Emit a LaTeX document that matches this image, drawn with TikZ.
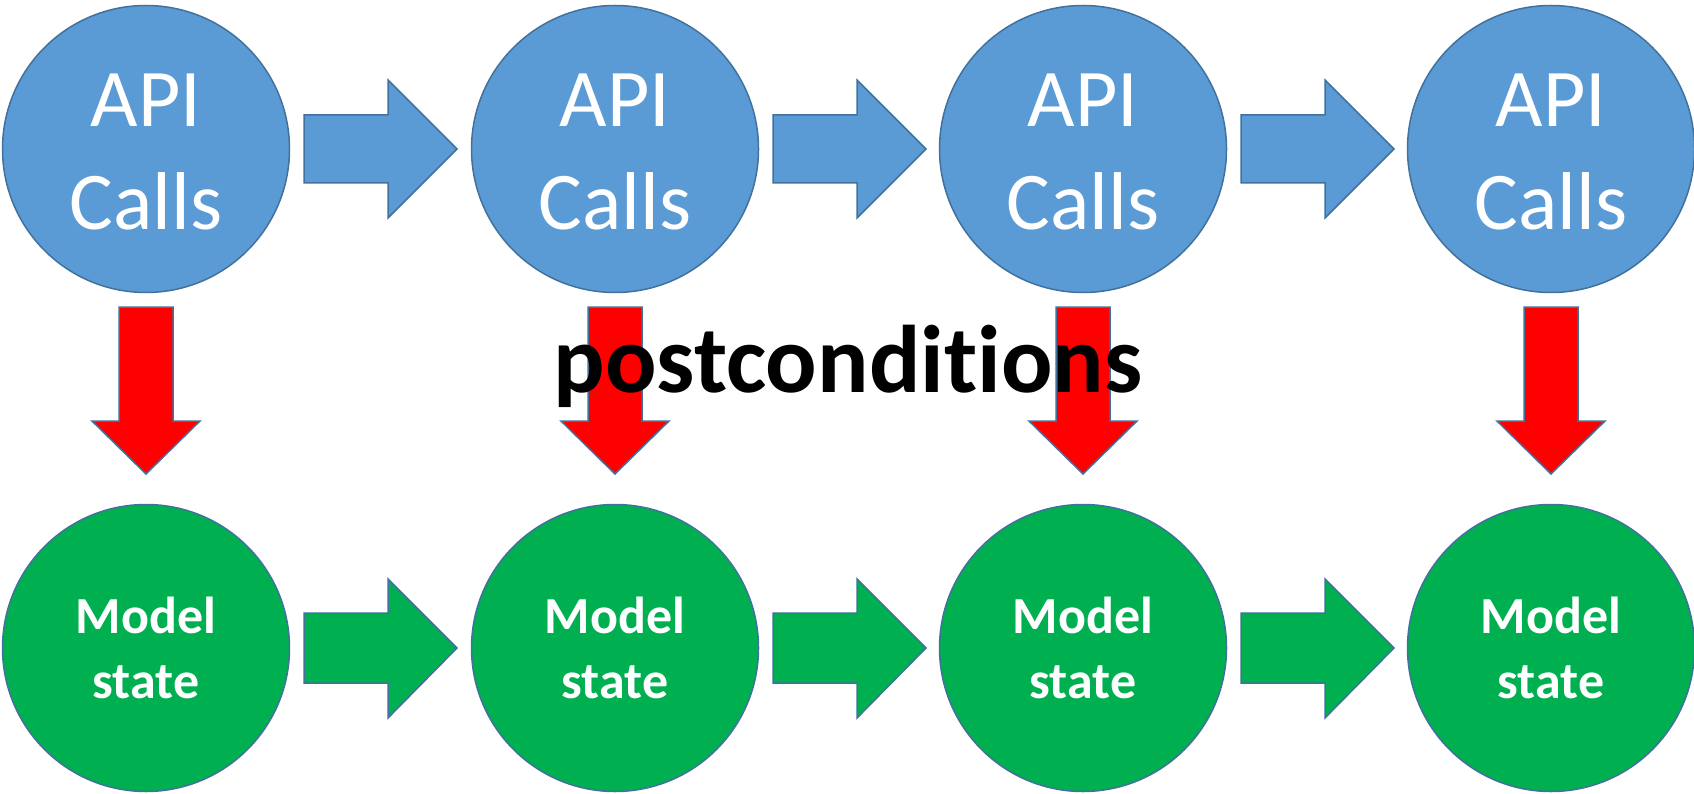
\documentclass[tikz,border=0pt]{standalone}
\usepackage{fontspec}
\setmainfont{Carlito}[Ligatures={NoCommon,NoRare}]
\definecolor{callblue}{HTML}{5B9BD5}
\definecolor{edgeblue}{HTML}{41719C}
\definecolor{stategreen}{HTML}{00B050}
\definecolor{postred}{HTML}{FF0000}
\begin{document}
\begin{tikzpicture}[x=1pt,y=-1pt,
  callnode/.style={circle, draw=edgeblue, fill=callblue, line width=1.5pt,
    minimum size=287pt, inner sep=0pt, text=white, align=center,
    font=\fontsize{82}{103}\selectfont},
  statenode/.style={circle, draw=edgeblue, fill=stategreen, line width=1.5pt,
    minimum size=287pt, inner sep=0pt, text=white, align=center,
    font=\bfseries\fontsize{52}{65}\selectfont},
  blockarrow/.style={draw=edgeblue, line width=1.5pt, line join=miter},
  flowblue/.style={blockarrow, fill=callblue},
  flowgreen/.style={blockarrow, fill=stategreen},
  downred/.style={blockarrow, fill=postred}]
\useasboundingbox (0,0) rectangle (1694,794);

% two rows of circles: API calls on top, model states below
\foreach \x [count=\i] in {146,615,1083,1551} {
  \node[callnode] (a\i) at (\x,149) {\rule{0pt}{59pt}API\\Calls};
  \node[statenode] (m\i) at (\x,648) {Model\\state};
}

% block arrows chaining the circles of each row
\foreach \i in {1,2,3} {
  \begin{scope}[shift={(a\i.center)}]
    \draw[flowblue] (158,-34) -- (242,-34) -- (242,-69) -- (311,0)
      -- (242,69) -- (242,34) -- (158,34) -- cycle;
  \end{scope}
  \begin{scope}[shift={(m\i.center)}]
    \draw[flowgreen] (158,-35) -- (242,-35) -- (242,-69) -- (311,0)
      -- (242,70) -- (242,35) -- (158,35) -- cycle;
  \end{scope}
}

% red arrows from each call down to its model state
\foreach \i in {1,2,3,4} {
  \begin{scope}[shift={(a\i.center)}]
    \draw[downred] (-27,158) -- (27,158) -- (27,272) -- (54,272) -- (0,325)
      -- (-54,272) -- (-27,272) -- cycle;
  \end{scope}
}

% the kerns keep the t and i apart as two separate letters
\node[anchor=base, inner sep=0pt, font=\bfseries\fontsize{96}{110}\selectfont]
  (post) at (848,392) {postcondit\kern0pt ion\kern0pt s};
\end{tikzpicture}
\end{document}
